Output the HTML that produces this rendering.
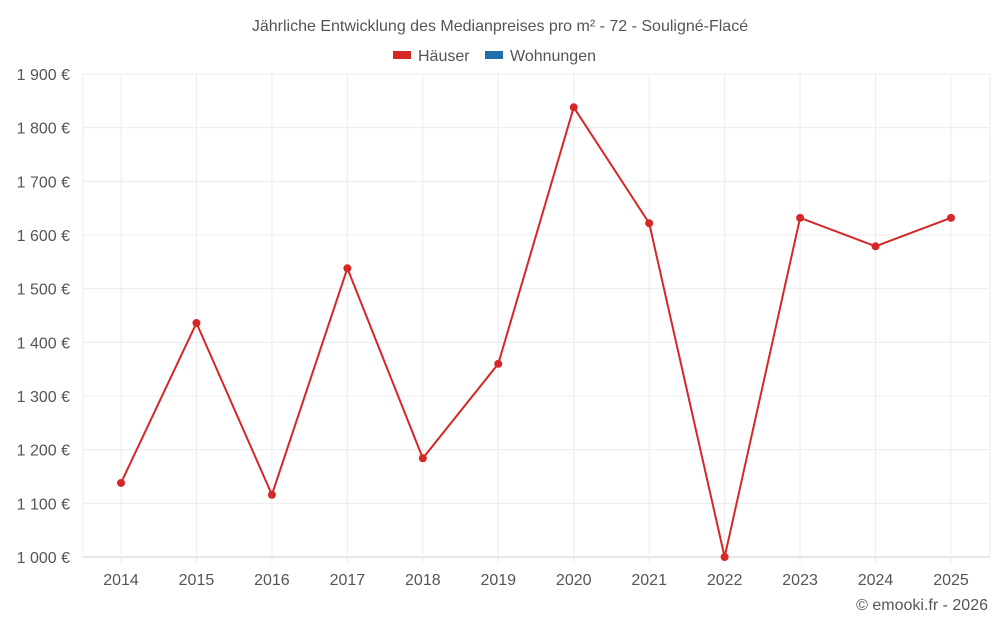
<!DOCTYPE html>
<html><head><meta charset="utf-8"><style>
body{margin:0;background:#fff;font-family:"Liberation Sans",sans-serif;}
svg text{font-family:"Liberation Sans",sans-serif;}
</style></head><body>
<svg id="chart" width="1000" height="625">
<text x="500" y="31" text-anchor="middle" font-size="16" fill="#555">Jährliche Entwicklung des Medianpreises pro m² - 72 - Souligné-Flacé</text>
<g>
<g><rect x="393" y="51" width="18" height="8" fill="#d62728"/><text x="418" y="61" font-size="16" fill="#555">Häuser</text></g>
<g><rect x="485" y="51" width="18" height="8" fill="#1f6fa8"/><text x="510" y="61" font-size="16" fill="#555">Wohnungen</text></g>
</g>
<g id="grid"></g><g id="axes"></g><g id="series"></g>
<text x="988" y="610" text-anchor="end" font-size="16" fill="#555">© emooki.fr - 2026</text>
</svg>
<script>
const years=["2014","2015","2016","2017","2018","2019","2020","2021","2022","2023","2024","2025"];
const haeuser=[1138,1436,1116,1538,1184,1360,1838,1622,1000,1632,1579,1632];
const yTicks=[1000,1100,1200,1300,1400,1500,1600,1700,1800,1900];
const NS="http://www.w3.org/2000/svg";
const L=83,R=990,T=74,B=557;
const x=i=>121+i*(951-121)/(years.length-1);
const y=v=>B-(v-1000)/(1900-1000)*(B-T);
function mk(t,a,p){const e=document.createElementNS(NS,t);for(const k in a)e.setAttribute(k,a[k]);p.appendChild(e);return e;}
const g=document.getElementById('grid'),ax=document.getElementById('axes'),s=document.getElementById('series');
yTicks.forEach(v=>{
 const l=mk('line',{x1:L,x2:R,y1:y(v),y2:y(v),stroke:v===1000?'#ccc':'#ececec'},g);
 
 
 const t=mk('text',{x:70,y:y(v)+6,'text-anchor':'end','font-size':16,fill:'#555'},ax);
 t.textContent=(v>=1000?Math.floor(v/1000)+' '+String(v%1000).padStart(3,'0'):v)+' €';
 
 
});
[L,R].forEach(xx=>{const l=mk('line',{x1:xx,x2:xx,y1:T,y2:B,stroke:'#ececec'},g);
 
 });
years.forEach((yr,i)=>{
 const l=mk('line',{x1:x(i),x2:x(i),y1:T,y2:B+6,stroke:'#ececec'},g);
 
 
 const t=mk('text',{x:x(i),y:585,'text-anchor':'middle','font-size':16,fill:'#555'},ax);
 t.textContent=yr;
 
 
});
const pl=mk('polyline',{points:haeuser.map((v,i)=>x(i)+','+y(v)).join(' '),fill:'none',stroke:'#d62728','stroke-width':2},s);


haeuser.forEach((v,i)=>{const c=mk('circle',{cx:x(i),cy:y(v),r:4,fill:'#d62728'},s);
 
 });
</script>
</body></html>
